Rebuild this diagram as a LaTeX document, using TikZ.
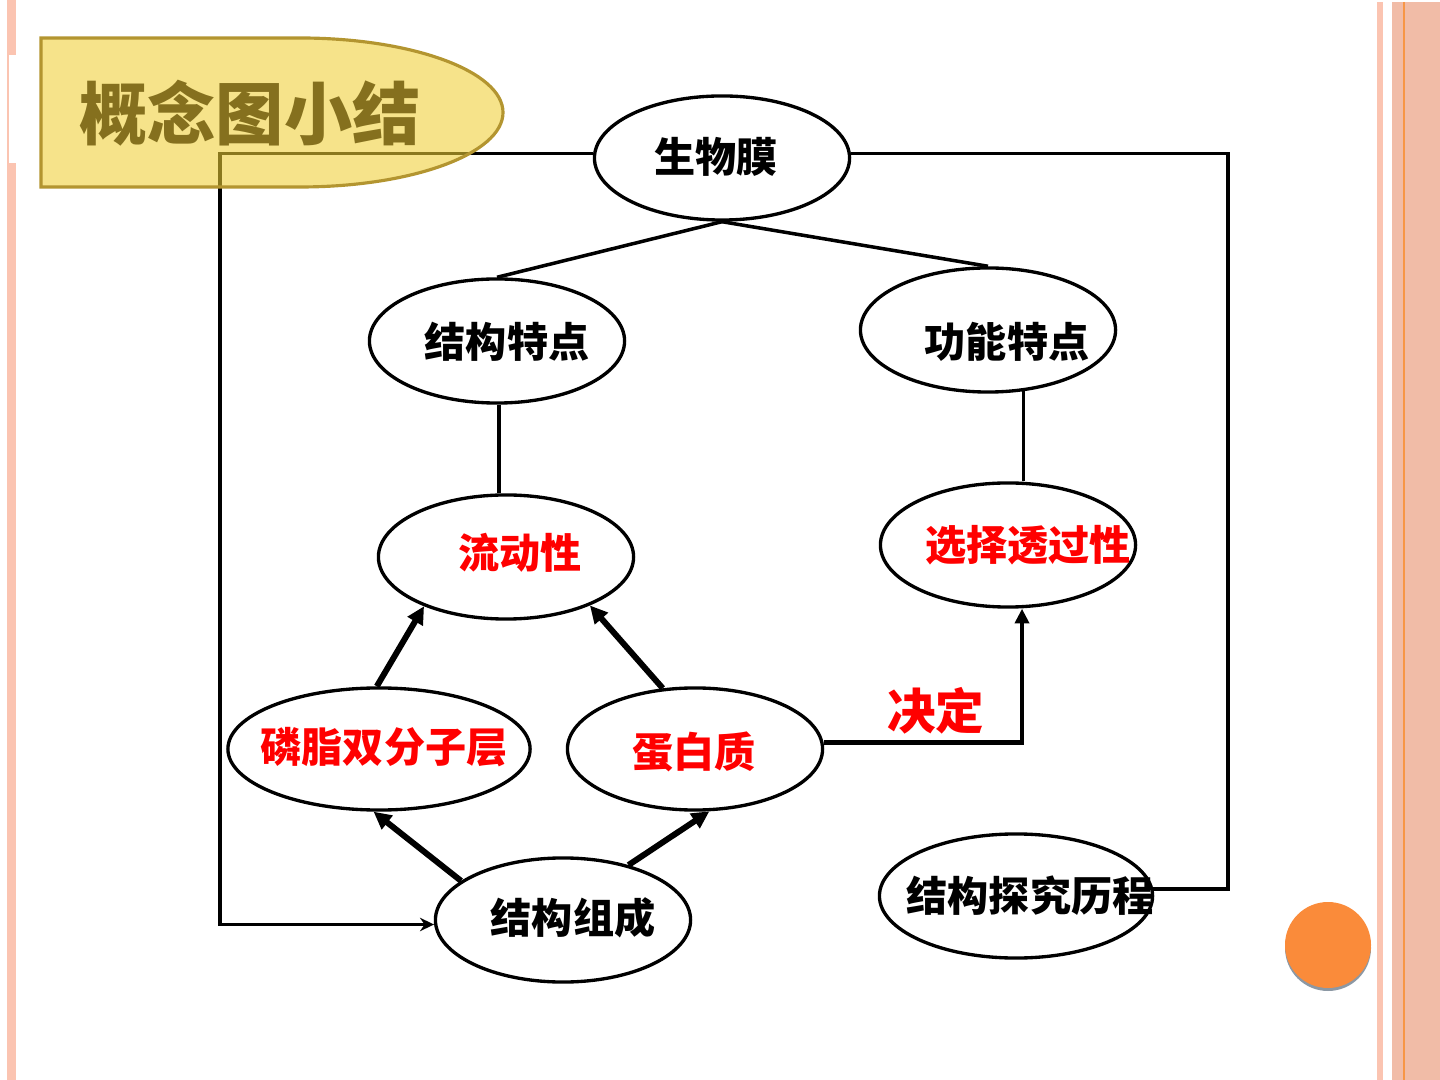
\documentclass[tikz,border=0pt]{standalone}
\usepackage{fontspec}
\usepackage{xcolor}
\usepackage{tikz}
\usetikzlibrary{positioning,arrows.meta,calc,shapes.geometric}
\newfontfamily\cjk{Noto Sans CJK SC}
\definecolor{ink}{HTML}{000000}
\definecolor{hong}{HTML}{FF0000}
\definecolor{gold}{HTML}{EFCF35}
\definecolor{goldEdge}{HTML}{B39530}
\definecolor{olive}{HTML}{85701E}
\definecolor{peach}{HTML}{FBC4B1}
\definecolor{peachDeep}{HTML}{F1BCA7}
\definecolor{amber}{HTML}{F79646}
\definecolor{dot}{HTML}{FA8B3A}
\definecolor{dotShade}{HTML}{8C98A4}
\tikzset{
  oval/.style = {ellipse, draw=ink, line width=0.95pt, inner sep=0pt,
                 minimum width=2.55cm, minimum height=1.24cm},
  txt/.style  = {font=\cjk\bfseries\fontsize{11.7}{14}\selectfont, text=ink, inner sep=0pt},
  rtx/.style  = {txt, text=hong},
  ttl/.style  = {font=\cjk\bfseries\fontsize{19.4}{23}\selectfont, text=olive, inner sep=0pt},
  ln/.style   = {line width=1pt, draw=ink},
  ar/.style   = {-{Triangle[length=5pt,width=4.8pt]}, line width=1.7pt, draw=ink},
  tar/.style  = {ln, -{Stealth[length=4pt,width=3.8pt]}},
}

\begin{document}
\begin{tikzpicture}[x=0.01cm, y=-0.01cm]
  \useasboundingbox (0,0) rectangle (1440,1080);
  \fill[peach] (7,0) rectangle (16,1080);
  \fill[white] (9,55) rectangle (16,163);
  \fill[peach] (1377,2) rectangle (1383,1080);
  \fill[peachDeep] (1392,2) rectangle (1440,1080);
  \draw[amber, line width=0.4pt] (1404,2) -- (1404,1080);
  \fill[dotShade] (1328,948) circle (43);
  \fill[dot] (1328,945) circle (43);

  \node[oval] (smm) at (722,158) {};
  \node[oval] (jgtd) at (497,341) {};
  \node[oval] (gntd) at (988,330) {};
  \node[oval] (ldx) at (506,557) {};
  \node[oval] (xztg) at (1008,545) {};
  \node[oval, minimum width=3.02cm, minimum height=1.22cm] (lzsc) at (379,749) {};
  \node[oval, minimum height=1.22cm] (dbz) at (695,749) {};
  \node[oval] (jgzc) at (563,920) {};
  \node[oval, minimum width=2.73cm] (tjlc) at (1016,896) {};

  \draw[ln] (smm.south) -- (jgtd.north);
  \draw[ln] (smm.south) -- (gntd.north);
  \draw[ln] (jgtd.-88) -- (jgtd.-88 |- ldx.north);
  \draw[ln] (gntd.-60) -- (gntd.-60 |- xztg.north);
  \draw[ar] (lzsc.92) -- (ldx.211);
  \draw[ar] (dbz.118) -- (ldx.-30);
  \draw[ar] (jgzc.159) -- (lzsc.265);
  \draw[ar] (jgzc.40) -- (dbz.-77);
  \draw[ar, line width=1.4pt, -{Triangle[length=4.2pt,width=4pt]}] (dbz.3) -| ($(xztg.south)+(14,0)$)
       node[pos=0.25, above=1.7pt, xshift=3.7pt, rtx, font=\cjk\bfseries\fontsize{13.8}{16}\selectfont] (jd) {决定};

  \coordinate (lk) at (220,0);
  \coordinate (rk) at (1228,0);
  \draw[tar] (smm.178) -| (lk |- jgzc.182) -- (jgzc.182);
  \draw[ln] (smm.2) -| (rk |- tjlc.3) -- (tjlc.3);

  \node[txt] (smm-t) at (716,157) {生物膜};
  \node[txt] (jgtd-t) at (507,342) {结构特点};
  \node[txt] (gntd-t) at (1007,342) {功能特点};
  \node[rtx] (ldx-t) at (520,553) {流动性};
  \node[rtx] (xztg-t) at (1028,545) {选择透过性};
  \node[rtx] (lzsc-t) at (384,747) {磷脂双分子层};
  \node[rtx] (dbz-t) at (694,752) {蛋白质};
  \node[txt] (jgzc-t) at (573,918) {结构组成};
  \node[txt] (tjlc-t) at (1030,896) {结构探究历程};

  \draw[draw=goldEdge, line width=0.9pt, fill=gold, fill opacity=0.58]
       (41,38) -- (300,38) arc[start angle=-90, end angle=90, x radius=203, y radius=74.5] -- (41,187) -- cycle;
  \node[ttl] (bt) at (250,113) {概念图小结};
\end{tikzpicture}
\end{document}
